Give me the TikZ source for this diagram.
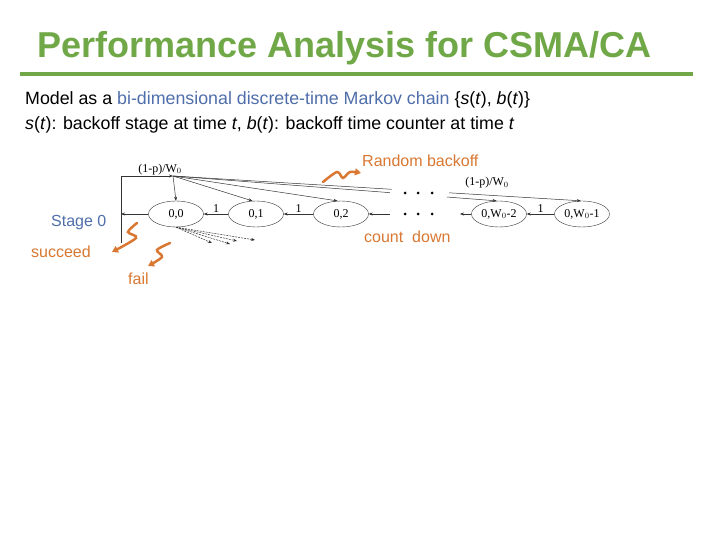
\documentclass[tikz,border=0pt]{standalone}
\usepackage{fontspec}
\setmainfont{Liberation Sans}
\newfontfamily\chainfont{Liberation Serif}
\usetikzlibrary{shapes.geometric,calc,arrows.meta,positioning}
\definecolor{titlegreen}{RGB}{112,168,72}
\definecolor{keyblue}{RGB}{79,110,170}
\definecolor{noteorange}{RGB}{217,120,50}
\begin{document}
\begin{tikzpicture}[x=1pt,y=-1pt,
  state/.style={draw=black!80, ellipse, minimum width=55pt, minimum height=26pt, inner sep=0pt,
    font=\chainfont\fontsize{12}{12}\selectfont},
  lab/.style={font=\chainfont\fontsize{12}{12}\selectfont, inner sep=1pt},
  link/.style={draw=black!80, line width=0.5pt, -{Stealth[length=4pt,width=3pt]}},
  fail/.style={link, dash pattern=on 2pt off 1pt},
  note/.style={font=\fontsize{16}{16}\selectfont, text=noteorange, inner sep=0pt, anchor=base west},
  squiggle/.style={draw=noteorange, line width=2.5pt, line cap=round,
    -{Triangle[length=6pt,width=7pt]}}]
\fill[white] (0,0) rectangle (720,540);
\useasboundingbox (0,0) rectangle (720,540);

% title and rule
\node[anchor=base west, inner sep=0pt, text=titlegreen] (title) at (37,58)
  {\bfseries\fontsize{36}{36}\selectfont Performance Analysis for CSMA/CA};
\draw[titlegreen, line width=3.5pt] (20,74) -- (693,74);
\node[anchor=base west, inner sep=0pt] (line1) at (25,105) {\fontsize{17.8}{17.8}\selectfont
  Model as a \textcolor{keyblue}{bi-dimensional discrete-time Markov chain} \{\textit{s}(\textit{t}), \textit{b}(\textit{t})\}};
\node[anchor=base west, inner sep=0pt] (line2) at (25,130) {\fontsize{17.8}{17.8}\selectfont
  \textit{s}(\textit{t}): backoff stage at time \textit{t}, \textit{b}(\textit{t}): backoff time counter at time \textit{t}};

% stage 0 chain
\node[state] (e00) at (176,214) {0,0};
\node[state] (e01) at (256,214) {0,1};
\node[state] (e02) at (341,214) {0,2};
\node[state] (ew2) at (499,214) {0,W$_0$-2};
\node[state] (ew1) at (582,214) {0,W$_0$-1};
\foreach \x in {405,418,432}{
\fill (\x,193) circle (1.5pt);
\fill (\x,214) circle (1.5pt);
}
\coordinate (dl) at (390,214);
\coordinate (dr) at (460,214);
\coordinate (lt) at (121,176);
\coordinate (lm) at (121,214);
\coordinate (lb) at (121,243);
\coordinate (src) at (173,176);

\draw[link] (e01) -- node[lab, above] {1} (e00);
\draw[link] (e02) -- node[lab, above] {1} (e01);
\draw[link] (dl) -- (e02);
\draw[link] (ew2) -- (dr);
\draw[link] (ew1) -- node[lab, above] {1} (ew2);

% back to the start of the stage
\draw[link] (e00) -- (lm);
\draw[draw=black!80, line width=0.5pt] (lb) -- (lt);
\draw[link] (lt) -- node[lab, above, pos=.75] {(1-p)/W$_0$} (src);

% random backoff
\draw[link] (src) -- (e00.north);
\draw[link] (src) -- (e01.105);
\draw[link] (src) -- (e02.105);
\draw[draw=black!80, line width=0.5pt] (src) -- ($(src)!.536!(ew1.95)$);
\draw[link] ($(src)!.677!(ew1.95)$) -- (ew1.95);
\draw[draw=black!80, line width=0.5pt] (src) -- ($(src)!.67!(ew2.100)$);
\draw[link] ($(src)!.846!(ew2.100)$) -- (ew2.100);
\node[lab] (pw) at (487,183) {(1-p)/W$_0$};

% failed transmissions
\draw[fail] (e00.south) -- (212,243);
\draw[fail] (e00.south) -- (230,244);
\draw[fail] (e00.south) -- (237,241);
\draw[fail] (e00.south) -- (255,240);

% notes
\node[note] (rb) at (362,167) {Random backoff};
\node[note] (cd) at (364,242) {count\ \ down};
\node[note, text=keyblue] (st) at (51,226) {Stage 0};
\node[note] (sc) at (31,258) {succeed};
\node[note] (fl) at (128,284) {fail};
\draw[squiggle] plot[smooth] coordinates {(323,182) (337,172) (343,178) (350,172) (361,173)};
\draw[squiggle] plot[smooth] coordinates {(137,223) (128,232) (136,238) (112,252)};
\draw[squiggle] plot[smooth] coordinates {(170,243) (157,250) (162,257) (148,266)};
\end{tikzpicture}
\end{document}
